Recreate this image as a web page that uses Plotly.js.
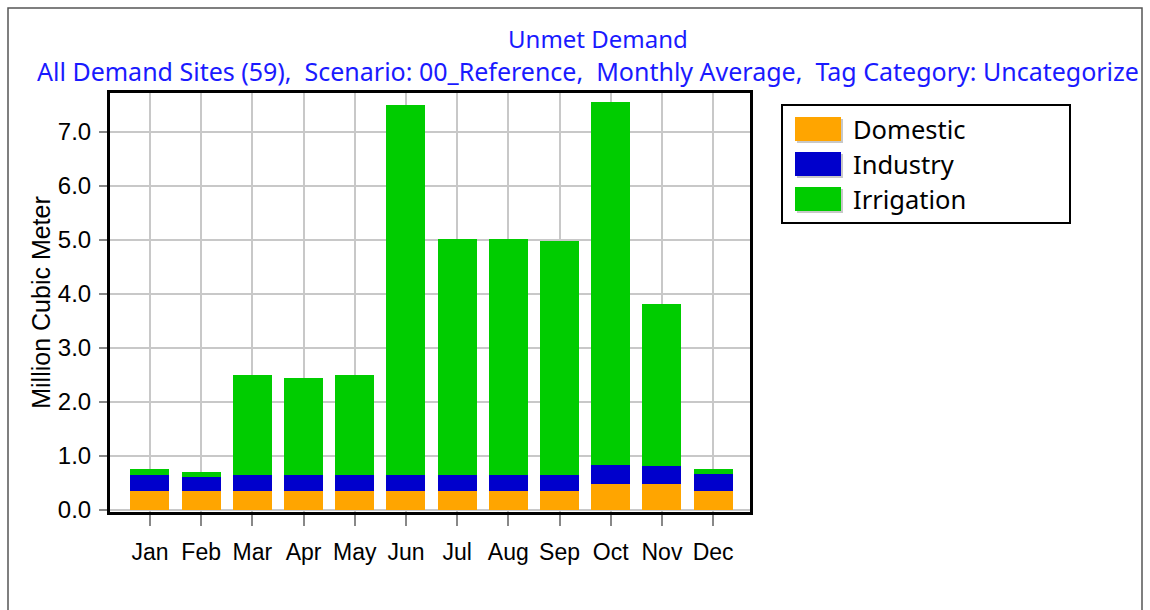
<!DOCTYPE html>
<html>
<head>
<meta charset="utf-8">
<script src="https://cdn.plot.ly/plotly-3.0.1.min.js"></script>
<style>
html,body{margin:0;padding:0;background:#fff;}
#chart{width:1150px;height:610px;}
</style>
</head>
<body>
<div id="chart"></div>
<script>
// ---- data ----
const months = ["Jan","Feb","Mar","Apr","May","Jun","Jul","Aug","Sep","Oct","Nov","Dec"];
const seriesNames = ["Domestic","Industry","Irrigation"];
const domestic   = [0.35,0.35,0.35,0.35,0.35,0.35,0.35,0.35,0.35,0.48,0.48,0.35];
const industry   = [0.30,0.26,0.30,0.30,0.30,0.30,0.30,0.30,0.30,0.36,0.34,0.31];
const irrigation = [0.10,0.10,1.85,1.79,1.85,6.84,4.36,4.36,4.33,6.71,2.99,0.09];
const yTicks = [0,1,2,3,4,5,6,7];
const titleText = "Unmet Demand";
const subtitleText = "All Demand Sites (59),\u00a0 Scenario: 00_Reference,\u00a0 Monthly Average,\u00a0 Tag Category: Uncategorize";
const yTitle = "Million Cubic Meter";

// ---- styles ----
const colors = ["#FFA500","#0000CC","#00CC00"];
const W = 1150, H = 610;
const L = 110, R = 750, T = 93, B = 512;
const pw = R - L, ph = B - T;
const px = x => (x - L) / pw;
const py = y => (B - y) / ph;

const seriesVals = [domestic, industry, irrigation];
const traces = seriesVals.map((vals, i) => ({
  type: "bar",
  x: months,
  y: vals,
  name: seriesNames[i],
  marker: {color: colors[i], line: {width: 0}},
  showlegend: false,
  hoverinfo: "x+y+name"
}));

const shapes = [
  // outer frame
  {type:"rect", xref:"paper", yref:"paper", x0:px(8), x1:px(1142), y0:py(625), y1:py(8),
   line:{color:"#555", width:1.5}, fillcolor:"rgba(0,0,0,0)", layer:"below"},
  // legend box
  {type:"rect", xref:"paper", yref:"paper", x0:px(782), x1:px(1070), y0:py(223), y1:py(105),
   line:{color:"#000", width:2}, fillcolor:"#fff"}
];
const annotations = [
  {xref:"paper", yref:"paper", x:px(598), y:py(38), xanchor:"center", yanchor:"middle",
   text:titleText, showarrow:false, font:{family:"Noto Sans, Open Sans, sans-serif", size:24, color:"#1a1aff"}},
  {xref:"paper", yref:"paper", x:px(35), y:py(71), xanchor:"left", yanchor:"middle",
   text:subtitleText, showarrow:false, font:{family:"Noto Sans, Open Sans, sans-serif", size:25, color:"#1a1aff"}}
];
const legendCenters = [129, 164, 199];
seriesNames.forEach((n, i) => {
  const c = legendCenters[i];
  // shadow
  shapes.push({type:"rect", xref:"paper", yref:"paper", x0:px(797), x1:px(843), y0:py(c+14), y1:py(c-10),
    line:{width:0}, fillcolor:"#c8c8c8"});
  shapes.push({type:"rect", xref:"paper", yref:"paper", x0:px(795), x1:px(841), y0:py(c+12), y1:py(c-12),
    line:{width:0}, fillcolor:colors[i]});
  annotations.push({xref:"paper", yref:"paper", x:px(851), y:py(c), xanchor:"left", yanchor:"middle",
    text:n, showarrow:false, font:{family:"Noto Sans, Open Sans, sans-serif", size:25.5, color:"#000"}});
});

const layout = {
  width: W, height: H,
  margin: {l: L, r: W - R, t: T, b: H - B, pad: 0},
  paper_bgcolor: "#fff",
  plot_bgcolor: "#fff",
  barmode: "stack",
  bargap: 0.24,
  showlegend: false,
  xaxis: {
    type: "category",
    range: [-0.78, 11.72],
    showgrid: true, gridcolor: "#c8c8c8", gridwidth: 2,
    showline: true, linecolor: "#000", linewidth: 3, mirror: true,
    ticks: "outside", ticklen: 11, tickwidth: 2, tickcolor: "#888",
    ticklabelstandoff: 6,
    tickfont: {family: "Liberation Sans, Arial, sans-serif", size: 23, color: "#000"},
    zeroline: false
  },
  yaxis: {
    range: [-0.037, 7.72],
    tickvals: yTicks,
    tickformat: ".1f",
    showgrid: true, gridcolor: "#c8c8c8", gridwidth: 2,
    showline: true, linecolor: "#000", linewidth: 3, mirror: true,
    ticks: "outside", ticklen: 8, tickwidth: 2, tickcolor: "#888",
    ticklabelstandoff: 3,
    tickfont: {family: "Liberation Sans, Arial, sans-serif", size: 24, color: "#000"},
    zeroline: false,
    title: {text: yTitle, font: {family: "Liberation Sans, Arial, sans-serif", size: 25, color: "#000"}, standoff: 1}
  },
  shapes: shapes,
  annotations: annotations
};

Plotly.newPlot("chart", traces, layout, {displayModeBar: false, staticPlot: true});
</script>
</body>
</html>
